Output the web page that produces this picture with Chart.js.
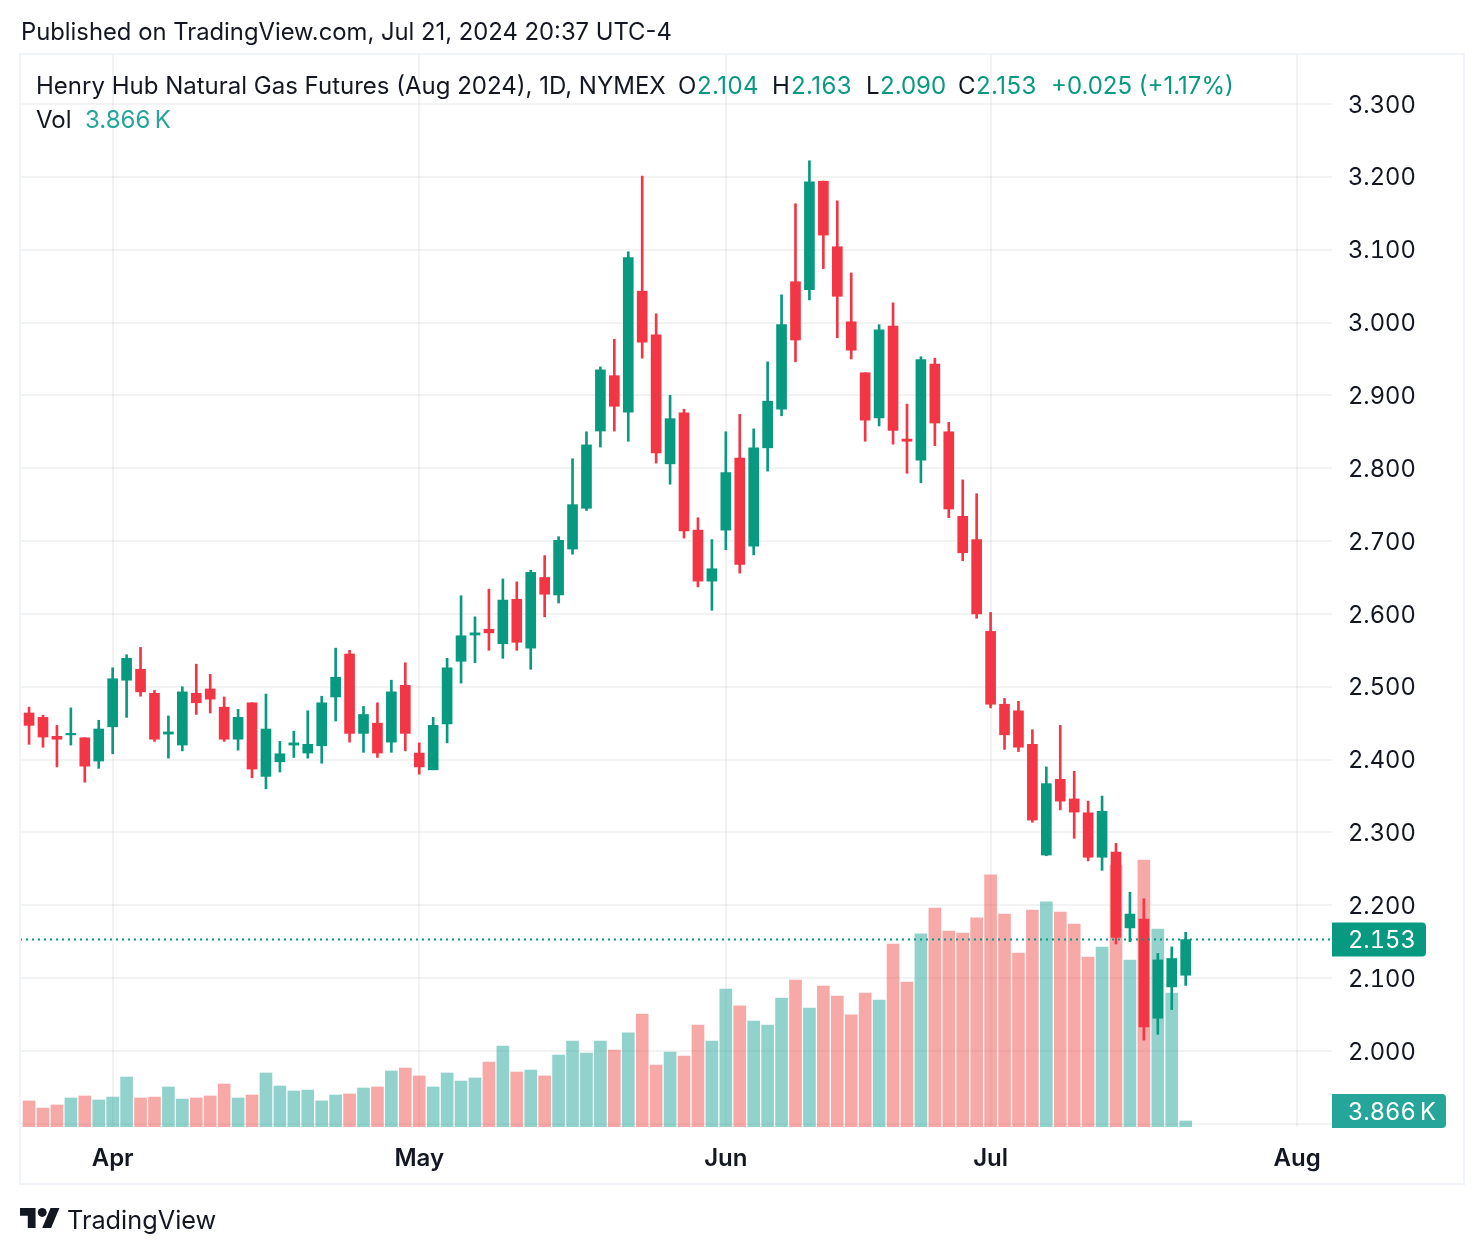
<!DOCTYPE html>
<html>
<head>
<meta charset="utf-8">
<script src="https://cdn.jsdelivr.net/npm/chart.js@4"></script>
<style>
html, body { margin: 0; padding: 0; background: #fff; }
body { width: 1484px; height: 1254px; position: relative; overflow: hidden; font-family: Inter, sans-serif; color: #131722; }
canvas { position: absolute; left: 0; top: 0; font-variant-numeric: tabular-nums; font-feature-settings: 'tnum'; }
.frame { position: absolute; left: 19px; top: 53px; width: 1442px; height: 1128px; border: 2px solid #f0f3fa; pointer-events: none; }
.t { position: absolute; white-space: nowrap; font-size: 24px; line-height: 30px; }
.up { color: #089981; }
.vol { color: #26a69a; }
</style>
</head>
<body>
<canvas id="chart" width="1484" height="1254"></canvas>
<div class="frame"></div>
<div class="t" style="left:21px;top:17px;font-size:23.8px">Published on TradingView.com, Jul 21, 2024 20:37 UTC-4</div>
<div class="t" style="left:36px;top:71px">Henry Hub Natural Gas Futures (Aug 2024), 1D, NYMEX</div>
<div class="t" style="left:678px;top:71px">O</div>
<div class="t up" style="left:697px;top:71px;letter-spacing:.4px">2.104</div>
<div class="t" style="left:772px;top:71px">H</div>
<div class="t up" style="left:791px;top:71px;letter-spacing:.4px">2.163</div>
<div class="t" style="left:866px;top:71px">L</div>
<div class="t up" style="left:880px;top:71px">2.090</div>
<div class="t" style="left:958px;top:71px">C</div>
<div class="t up" style="left:976px;top:71px;letter-spacing:.4px">2.153</div>
<div class="t up" style="left:1051px;top:71px">+0.025 (+1.17%)</div>
<div class="t" style="left:36px;top:105px">Vol</div>
<div class="t vol" style="left:85px;top:105px">3.866&#8201;K</div>
<svg style="position:absolute;left:20px;top:1208px" width="40" height="20" viewBox="0 4 36 18" fill="#131722">
  <path d="M14 22H7V11H0V4h14v18zM28 22h-8l7.5-18h8L28 22z"></path>
  <circle cx="20" cy="8" r="4"></circle>
</svg>
<div class="t" style="left:67px;top:1205px;font-size:25.3px">TradingView</div>

<script>
// daily candles
const opens = [2.464,2.458,2.432,2.434,2.430,2.398,2.445,2.509,2.524,2.491,2.435,2.420,2.491,2.497,2.472,2.428,2.478,2.377,2.397,2.420,2.409,2.419,2.486,2.545,2.436,2.450,2.424,2.502,2.409,2.386,2.449,2.535,2.571,2.579,2.559,2.620,2.553,2.650,2.626,2.689,2.745,2.851,2.927,2.877,3.043,2.983,2.806,2.876,2.715,2.645,2.715,2.814,2.693,2.828,2.881,3.056,3.045,3.194,3.104,3.001,2.931,2.869,2.995,2.840,2.811,2.943,2.850,2.734,2.702,2.576,2.476,2.467,2.421,2.269,2.373,2.346,2.327,2.266,2.273,2.169,2.181,2.045,2.088,2.104]
const highs = [2.472,2.461,2.447,2.471,2.430,2.454,2.526,2.544,2.554,2.495,2.460,2.500,2.531,2.517,2.486,2.469,2.478,2.490,2.425,2.439,2.467,2.487,2.553,2.550,2.473,2.478,2.509,2.533,2.423,2.458,2.539,2.625,2.596,2.634,2.648,2.644,2.660,2.680,2.706,2.813,2.850,2.939,2.977,3.097,3.201,3.012,2.900,2.881,2.732,2.702,2.850,2.874,2.854,2.946,3.038,3.163,3.222,3.194,3.167,3.068,2.931,2.997,3.027,2.888,2.953,2.951,2.863,2.784,2.765,2.602,2.484,2.480,2.441,2.390,2.447,2.384,2.343,2.350,2.285,2.218,2.209,2.134,2.143,2.163]
const lows = [2.421,2.417,2.390,2.420,2.369,2.388,2.408,2.458,2.487,2.425,2.402,2.412,2.462,2.464,2.425,2.413,2.375,2.360,2.383,2.403,2.402,2.395,2.453,2.424,2.410,2.403,2.410,2.412,2.380,2.386,2.423,2.505,2.533,2.550,2.539,2.550,2.524,2.596,2.615,2.682,2.742,2.829,2.851,2.837,2.951,2.807,2.778,2.704,2.637,2.605,2.688,2.656,2.681,2.796,2.872,2.946,3.031,3.074,2.979,2.950,2.837,2.858,2.833,2.793,2.780,2.831,2.732,2.673,2.594,2.471,2.414,2.411,2.314,2.268,2.331,2.292,2.261,2.248,2.147,2.150,2.015,2.023,2.057,2.090]
const closes = [2.447,2.431,2.428,2.436,2.391,2.442,2.511,2.539,2.493,2.428,2.438,2.493,2.478,2.483,2.428,2.458,2.387,2.442,2.408,2.423,2.421,2.478,2.513,2.436,2.462,2.409,2.493,2.436,2.390,2.447,2.526,2.570,2.574,2.574,2.619,2.561,2.657,2.627,2.701,2.750,2.832,2.935,2.885,3.089,2.973,2.821,2.868,2.714,2.645,2.662,2.794,2.668,2.828,2.892,2.997,2.976,3.193,3.120,3.036,2.962,2.866,2.990,2.852,2.837,2.949,2.862,2.744,2.684,2.600,2.476,2.434,2.417,2.317,2.367,2.343,2.328,2.266,2.329,2.156,2.188,2.033,2.125,2.127,2.153]
// volume in thousands
const volumes = [16.8,12.2,14.2,18.7,20.0,17.4,19.3,32.2,18.7,19.3,25.8,18.0,18.7,20.0,27.7,18.7,20.6,34.8,26.4,23.2,23.8,16.8,20.6,21.3,25.1,25.8,36.1,38.0,32.9,25.8,34.8,29.6,31.6,41.9,52.2,35.4,36.7,32.9,46.4,55.4,47.7,55.4,49.6,60.6,72.8,39.9,48.3,45.7,65.7,55.4,88.9,78.0,68.3,65.7,83.1,94.7,76.7,90.8,84.4,72.2,86.3,81.8,117.9,93.4,124.4,141.1,126.3,125.0,134.7,162.4,137.2,112.1,139.8,145.0,138.5,130.8,109.5,116.0,168.8,107.6,172.0,127.6,86.3,3.866]

const monthTicks = [6, 28, 50, 69, 91]
const monthLabels = ['Apr', 'May', 'Jun', 'Jul', 'Aug']
const priceTicks = [1.9, 2.0, 2.1, 2.2, 2.3, 2.4, 2.5, 2.6, 2.7, 2.8, 2.9, 3.0, 3.1, 3.2, 3.3]

const GREEN = '#089981'
const RED = '#f23645'
const GRID = 'rgba(42,46,57,0.06)'
const FONT = 'Inter, sans-serif'

const lastClose = closes[closes.length - 1]
const lastVolume = volumes[volumes.length - 1]

const candleColors = closes.map((c, i) => c >= opens[i] ? GREEN : RED)
const volumeColors = closes.map((c, i) => c >= opens[i] ? 'rgba(38,166,154,0.5)' : 'rgba(239,83,80,0.5)')

// price line and the two badges on the right axis
const priceMarks = {
    id: 'priceMarks',
    afterDatasetsDraw(chart) {
        const ctx = chart.ctx
        const area = chart.chartArea
        const y = chart.scales.y.getPixelForValue(lastClose)
        const yv = Math.min(chart.scales.yVol.getPixelForValue(lastVolume), area.bottom - 16)

        ctx.save()
        ctx.strokeStyle = GREEN
        ctx.lineWidth = 2
        ctx.setLineDash([2, 4])
        ctx.beginPath()
        ctx.moveTo(area.left, y)
        ctx.lineTo(area.right, y)
        ctx.stroke()
        ctx.setLineDash([])

        ctx.font = '23.7px ' + FONT
        ctx.textBaseline = 'middle'
        ctx.textAlign = 'left'

        ctx.fillStyle = GREEN
        ctx.beginPath()
        ctx.roundRect(area.right, y - 17, 94, 34, [0, 4, 4, 0])
        ctx.fill()
        ctx.fillStyle = '#fff'
        ctx.fillText(lastClose.toFixed(3), area.right + 16, y + 1.5)

        ctx.fillStyle = '#26a69a'
        ctx.beginPath()
        ctx.roundRect(area.right, yv - 17, 114, 34, [0, 4, 4, 0])
        ctx.fill()
        ctx.fillStyle = '#fff'
        ctx.fillText(lastVolume.toFixed(3) + '\u2009K', area.right + 16, yv + 1.5)
        ctx.restore()
    }
}

new Chart(document.getElementById('chart'), {
    type: 'bar',
    data: {
        datasets: [
            {
                label: 'Vol',
                yAxisID: 'yVol',
                order: 3,
                barThickness: 12,
                backgroundColor: volumeColors,
                data: volumes.map((v, i) => ({ x: i, y: v }))
            },
            {
                label: 'Wick',
                order: 2,
                barThickness: 2,
                backgroundColor: candleColors,
                data: highs.map((h, i) => ({ x: i, y: [lows[i], h] }))
            },
            {
                label: 'Body',
                order: 1,
                barThickness: 10,
                backgroundColor: candleColors,
                data: opens.map((o, i) => ({ x: i, y: [o, closes[i]] }))
            }
        ]
    },
    options: {
        responsive: false,
        animation: false,
        devicePixelRatio: 1,
        grouped: false,
        layout: { padding: { left: 20, top: 55, right: 20, bottom: 70 } },
        plugins: { legend: { display: false }, tooltip: { enabled: false } },
        scales: {
            x: {
                type: 'linear',
                offset: false,
                min: -0.65,
                max: 93.5,
                afterBuildTicks(axis) { axis.ticks = monthTicks.map(v => ({ value: v })) },
                afterFit(axis) { axis.height = 57 },
                grid: { color: GRID, lineWidth: 2, drawTicks: false, offset: false },
                border: { display: false },
                ticks: {
                    autoSkip: false,
                    maxRotation: 0,
                    padding: 17,
                    color: '#131722',
                    font: { family: FONT, size: 24, weight: '600' },
                    callback: v => monthLabels[monthTicks.indexOf(v)]
                }
            },
            y: {
                position: 'right',
                min: 1.8957,
                max: 3.3672,
                afterBuildTicks(axis) { axis.ticks = priceTicks.map(v => ({ value: v })) },
                afterFit(axis) { axis.width = 132 },
                grid: { color: GRID, lineWidth: 2, drawTicks: false },
                border: { display: false },
                ticks: {
                    padding: 16,
                    crossAlign: 'near',
                    color: '#131722',
                    // blank first line with a small line height nudges labels down to the reference
                    font: { family: FONT, size: 23.7, lineHeight: '3px' },
                    callback: v => v < 1.95 ? '' : ['', v.toFixed(3)]
                }
            },
            yVol: {
                display: false,
                min: 0,
                max: 690.7
            }
        }
    },
    plugins: [priceMarks]
})
</script>
</body>
</html>
